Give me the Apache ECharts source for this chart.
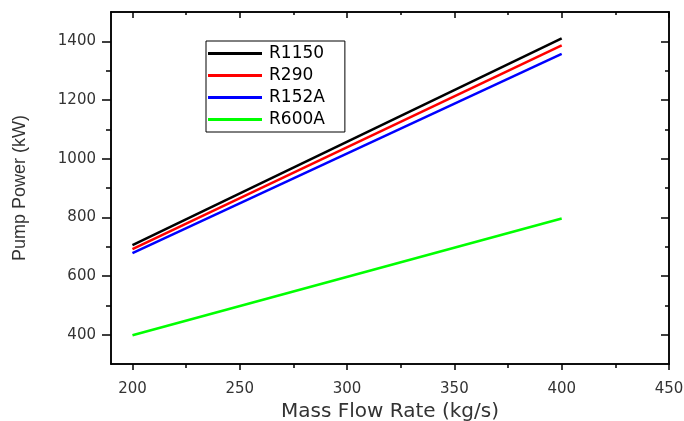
<!DOCTYPE html>
<html>
<head>
<meta charset="UTF-8">
<title>Pump Power</title>
<script src="https://cdn.jsdelivr.net/npm/echarts/dist/echarts.min.js"></script>
<style>
  body { margin: 0; background: #fff; }
  #chart { width: 684px; height: 421px; }
</style>
</head>
<body>
<div id="chart"></div>
<script>
  // data
  const massFlow = [200, 400];
  const r1150 = [705, 1410];
  const r290 = [692, 1386];
  const r152a = [678, 1357];
  const r600a = [398, 796];

  const xMajor = [200, 250, 300, 350, 400, 450];
  const xMinor = [225, 275, 325, 375, 425];
  const yMajor = [400, 600, 800, 1000, 1200, 1400];
  const yMinor = [500, 700, 900, 1100, 1300];

  // the reference text is wide, DejaVu Sans gets closer
  const wide = '"DejaVu Sans", Verdana, sans-serif';
  const narrow = '"Liberation Sans", Arial, sans-serif';
  const axisLine = { show: true, onZero: false, lineStyle: { color: '#000', width: 1.5 } };

  function pairs(ys) {
    return massFlow.map((x, i) => [x, ys[i]]);
  }

  function xAx(pos, ticks, len, inside, labels) {
    return {
      type: 'value', position: pos, min: 190, max: 450,
      axisLine: axisLine,
      splitLine: { show: false },
      axisTick: { show: true, inside: inside, length: len, customValues: ticks,
                  lineStyle: { color: '#000', width: 1.5 } },
      axisLabel: labels ? { show: true, customValues: ticks, margin: 18,
                  formatter: v => String(v),
                  color: '#333', fontSize: 15, fontFamily: wide } : { show: false }
    };
  }

  function yAx(pos, ticks, len, inside, labels) {
    return {
      type: 'value', position: pos, min: 300, max: 1500,
      axisLine: axisLine,
      splitLine: { show: false },
      axisTick: { show: true, inside: inside, length: len, customValues: ticks,
                  lineStyle: { color: '#000', width: 1.5 } },
      axisLabel: labels ? { show: true, customValues: ticks, margin: 15,
                  formatter: v => String(v),
                  color: '#333', fontSize: 15, fontFamily: wide } : { show: false }
    };
  }

  const xMain = xAx('bottom', xMajor, 6, false, true);
  xMain.name = 'Mass Flow Rate (kg/s)';
  xMain.nameLocation = 'middle';
  xMain.nameGap = 37;
  xMain.nameTextStyle = { color: '#333', fontSize: 20, fontFamily: wide };

  const yMain = yAx('left', yMajor, 9, false, true);
  yMain.name = 'Pump Power (kW)';
  yMain.nameLocation = 'middle';
  yMain.nameGap = 82;
  yMain.nameTextStyle = { color: '#333', fontSize: 18, fontFamily: narrow };

  function line(name, ys, color) {
    return {
      name: name, type: 'line', data: pairs(ys),
      xAxisIndex: 0, yAxisIndex: 0,
      symbol: 'none', silent: true, animation: false,
      lineStyle: { color: color, width: 2.5 },
      itemStyle: { color: color }
    };
  }

  const chart = echarts.init(document.getElementById('chart'));
  chart.setOption({
    animation: false,
    grid: { left: 111, right: 15, top: 12, bottom: 57, containLabel: false, outerBoundsMode: 'none' },
    legend: {
      orient: 'vertical', left: 206, top: 41,
      padding: [4, 20, 4, 2],
      icon: 'rect',
      itemWidth: 54, itemHeight: 3, itemGap: 5,
      borderColor: '#000', borderWidth: 1, backgroundColor: '#fff',
      textStyle: { color: '#000', fontSize: 17, fontFamily: wide, padding: [0, 0, 0, 2] },
      data: ['R1150', 'R290', 'R152A', 'R600A']
    },
    xAxis: [
      xMain,
      xAx('bottom', xMinor, 4, false, false),
      xAx('top', xMajor, 6, true, false),
      xAx('top', xMinor, 3, true, false)
    ],
    yAxis: [
      yMain,
      yAx('left', yMinor, 5, false, false),
      yAx('right', yMajor, 8, true, false),
      yAx('right', yMinor, 4, true, false)
    ],
    series: [
      line('R1150', r1150, '#000000'),
      line('R290', r290, '#ff0000'),
      line('R152A', r152a, '#0000ff'),
      line('R600A', r600a, '#00ff00')
    ]
  });
</script>
</body>
</html>
